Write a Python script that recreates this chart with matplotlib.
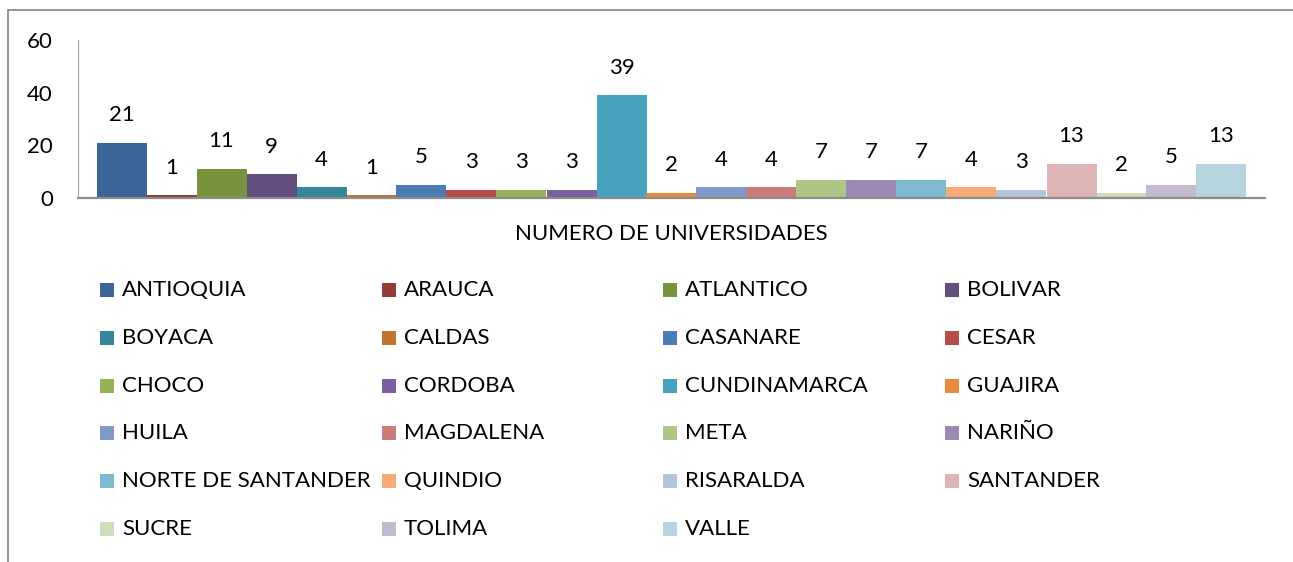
import numpy as np
import matplotlib.pyplot as plt
from matplotlib.patches import Rectangle

plt.rcParams['font.family'] = ['Lato', 'DejaVu Sans']

departamentos = ['ANTIOQUIA', 'ARAUCA', 'ATLANTICO', 'BOLIVAR', 'BOYACA', 'CALDAS',
                 'CASANARE', 'CESAR', 'CHOCO', 'CORDOBA', 'CUNDINAMARCA', 'GUAJIRA',
                 'HUILA', 'MAGDALENA', 'META', 'NARIÑO', 'NORTE DE SANTANDER', 'QUINDIO',
                 'RISARALDA', 'SANTANDER', 'SUCRE', 'TOLIMA', 'VALLE']
universidades = [21, 1, 11, 9, 4, 1, 5, 3, 3, 3, 39, 2, 4, 4, 7, 7, 7, 4, 3, 13, 2, 5, 13]
colores = ['#3B6497', '#953B39', '#77933C', '#634D7E', '#35869B', '#C2742F',
           '#4A7BB5', '#B64B48', '#93B256', '#7B5F9F', '#47A3BD', '#EB8A3E',
           '#7E9BC8', '#CB7B7A', '#AEC685', '#9C8AB4', '#7FB9CF', '#F6AB78',
           '#B5C3DD', '#DEB5B5', '#CFDDBA', '#C3B9D0', '#B5D4DE']
yticks = [0, 20, 40, 60]

W, H = 1293, 562
fig = plt.figure(figsize=(W / 100, H / 100), dpi=100)

# marco del grafico
fig.patches.append(Rectangle((8 / W, -0.1), 1.2, (H - 10) / H + 0.1, transform=fig.transFigure,
                             fill=False, edgecolor='#8C8C8C', linewidth=1.3))

ax = fig.add_axes([78 / W, (H - 198) / H, (1265 - 78) / W, 158 / H])
x = np.arange(len(universidades))
ax.bar(x, universidades, width=1.0, color=colores, linewidth=0)

for xi, v in zip(x, universidades):
    ax.annotate(str(v), (xi, v), xytext=(0, 20), textcoords='offset points',
                ha='center', va='center', fontsize=16)

ax.set_xlim(-0.87, 22.87)
ax.set_ylim(0, 60)
ax.set_yticks(yticks)
ax.set_xticks([])
ax.tick_params(axis='y', length=0, pad=18, labelsize=16)
for s in ['top', 'right']:
    ax.spines[s].set_visible(False)
ax.spines['left'].set_color('#A6A6A6')
ax.spines['bottom'].set_color('#8C8C8C')
ax.spines['bottom'].set_linewidth(1.6)

fig.text(671 / W, 1 - 234 / H, 'NUMERO DE UNIVERSIDADES', ha='center', va='center', fontsize=16)

# leyenda manual, 4 columnas por fila
for i, (nombre, c) in enumerate(zip(departamentos, colores)):
    fila, col = divmod(i, 4)
    cx = 100 + col * 281.7
    cy = 290 + fila * 47.8
    fig.patches.append(Rectangle((cx / W, 1 - (cy + 7) / H), 14 / W, 14 / H,
                                 transform=fig.transFigure, color=c, linewidth=0))
    fig.text((cx + 22) / W, 1 - cy / H, nombre, ha='left', va='center', fontsize=16)

fig.savefig('out.png', dpi=100)
